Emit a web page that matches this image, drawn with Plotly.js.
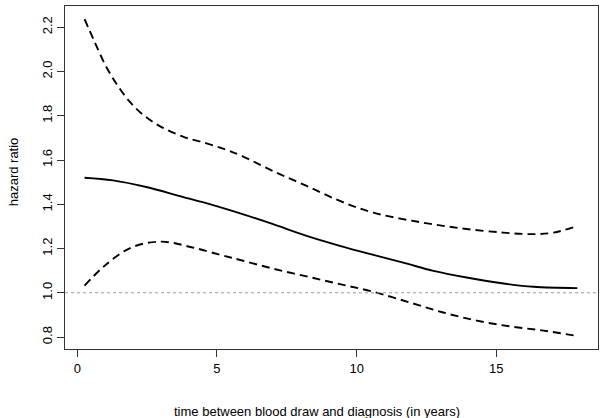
<!DOCTYPE html>
<html>
<head>
<meta charset="utf-8">
<script src="https://cdn.plot.ly/plotly-3.0.1.min.js"></script>
<style>html,body{margin:0;padding:0;background:#fff;}#chart{width:601px;height:418px;}</style>
</head>
<body>
<div id="chart"></div>
<script>
// Hazard ratio estimate (solid) and confidence bounds (dashed)
const estX = [0.26, 1.28, 2.47, 3.67, 4.86, 6.0, 7.01, 8.21, 9.40, 10.6, 11.7, 12.75, 13.94, 15.14, 16.33, 17.9];
const estY = [1.520, 1.508, 1.478, 1.437, 1.396, 1.352, 1.31, 1.257, 1.212, 1.171, 1.135, 1.099, 1.069, 1.044, 1.027, 1.021];

const upperX = [0.26, 0.6, 1.0, 1.4, 1.9, 2.4, 3.0, 3.8, 4.6, 5.3, 5.9, 7.01, 8.21, 9.40, 10.6, 12.15, 13.7, 15.25, 16.33, 17.05, 17.85];
const upperY = [2.237, 2.14, 2.03, 1.945, 1.86, 1.80, 1.75, 1.705, 1.676, 1.648, 1.618, 1.55, 1.483, 1.415, 1.362, 1.322, 1.292, 1.272, 1.265, 1.272, 1.30];

const lowerX = [0.26, 0.98, 1.94, 3.01, 4.09, 5.16, 5.9, 7.01, 8.21, 9.40, 10.6, 11.91, 13.10, 14.30, 15.5, 16.69, 17.85];
const lowerY = [1.032, 1.122, 1.205, 1.231, 1.206, 1.17, 1.146, 1.109, 1.074, 1.039, 1.0045, 0.956, 0.911, 0.874, 0.848, 0.829, 0.806];

const xTicks = [0, 5, 10, 15];
const yTicks = [0.8, 1.0, 1.2, 1.4, 1.6, 1.8, 2.0, 2.2];
const refLine = 1.0;

const xTitle = 'time between blood draw and diagnosis (in years)';
const yTitle = 'hazard ratio';

const FONT = 'Liberation Sans, Arial, Helvetica, sans-serif';

const traces = [
  {x: estX, y: estY, mode: 'lines', line: {color: '#000', width: 1.9, shape: 'spline', smoothing: 1}, hoverinfo: 'skip'},
  {x: upperX, y: upperY, mode: 'lines', line: {color: '#000', width: 1.9, dash: '8px,5px', shape: 'spline', smoothing: 1}, hoverinfo: 'skip'},
  {x: lowerX, y: lowerY, mode: 'lines', line: {color: '#000', width: 1.9, dash: '8px,5px', shape: 'spline', smoothing: 1}, hoverinfo: 'skip'}
];

const axisCommon = {
  showgrid: false, zeroline: false, showline: true, mirror: true,
  linecolor: '#333', linewidth: 1, ticks: 'outside', ticklen: 7, tickwidth: 1, tickcolor: '#333',
  tickfont: {family: FONT, size: 13, color: '#000'}
};

const layout = {
  width: 601, height: 418,
  margin: {l: 65, r: 3, t: 6, b: 69},
  paper_bgcolor: '#fff', plot_bgcolor: '#fff',
  showlegend: false,
  font: {family: FONT, size: 13, color: '#000'},
  xaxis: Object.assign({}, axisCommon, {range: [-0.44, 18.64], tickvals: xTicks, ticktext: xTicks.map(String)}),
  yaxis: Object.assign({}, axisCommon, {range: [0.746, 2.296], tickvals: yTicks, ticktext: yTicks.map(v => v.toFixed(1)), tickangle: -90}),
  shapes: [
    {type: 'line', xref: 'paper', x0: 0, x1: 1, yref: 'y', y0: refLine, y1: refLine,
     line: {color: '#999', width: 1, dash: 'dot'}}
  ],
  annotations: [
    {text: xTitle, xref: 'paper', yref: 'paper', x: 0.472, y: -0.183, xanchor: 'center', yanchor: 'middle',
     showarrow: false, font: {family: FONT, size: 13, color: '#000'}},
    {text: yTitle, xref: 'paper', yref: 'paper', x: -0.097, y: 0.516, xanchor: 'center', yanchor: 'middle',
     textangle: -90, showarrow: false, font: {family: FONT, size: 13, color: '#000'}}
  ]
};

Plotly.newPlot('chart', traces, layout, {staticPlot: true, displayModeBar: false});
</script>
</body>
</html>
